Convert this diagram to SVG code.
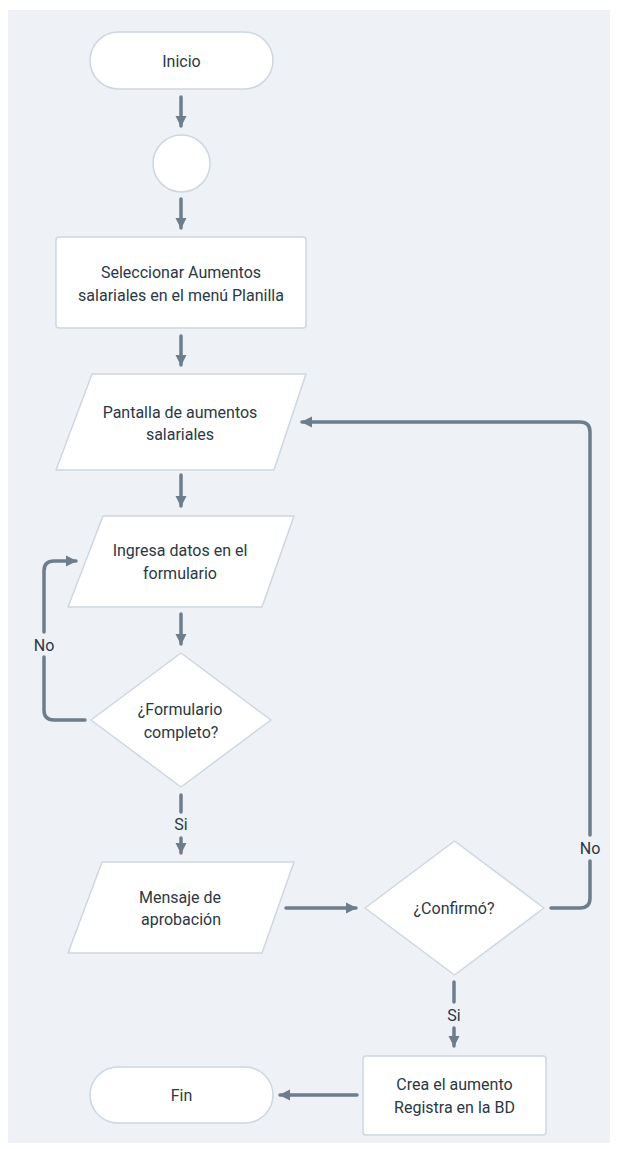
<svg xmlns="http://www.w3.org/2000/svg" width="618" height="1149" viewBox="0 0 618 1149">
<style>
.node{fill:#ffffff;stroke:#cdd7e0;stroke-width:1.5;stroke-linejoin:round}
.t{font-family:Roboto,"Liberation Sans",sans-serif;font-size:16px;fill:#2b3845;text-anchor:middle;dominant-baseline:central}
.c{fill:none;stroke:#6e7d8c;stroke-width:3.5;stroke-linecap:round;stroke-linejoin:round}
.ca{marker-end:url(#ah)}
.lbl{font-family:Roboto,"Liberation Sans",sans-serif;font-size:16px;fill:#2b3845;text-anchor:middle;dominant-baseline:central}
</style>
<defs>
<marker id="ah" markerUnits="userSpaceOnUse" markerWidth="12" markerHeight="12" viewBox="0 0 12 12" refX="10" refY="6" orient="auto">
<path d="M0,0.5 L11,6 L0,11.5 z" fill="#6e7d8c"/>
</marker>
</defs>
<rect x="8" y="10" width="602" height="1133" fill="#eef2f6"/>
<g id="connectors">
<path class="c ca" d="M181,97 V126"/>
<path class="c ca" d="M181,199 V228"/>
<path class="c ca" d="M181,336 V365"/>
<path class="c ca" d="M181,475 V506"/>
<path class="c ca" d="M181,614 V644"/>
<path class="c" d="M85,720 H54 Q44,720 44,710 V657"/>
<path class="c ca" d="M44,632 V571 Q44,561 54,561 H76"/>
<text class="lbl" x="44" y="645">No</text>
<path class="c" d="M181,795 V812"/>
<text class="lbl" x="181" y="824">Si</text>
<path class="c ca" d="M181,838 V853"/>
<path class="c ca" d="M286,908 H356"/>
<path class="c" d="M551,908 H580 Q590,908 590,898 V861"/>
<path class="c ca" d="M590,835 V432 Q590,422 580,422 H302"/>
<text class="lbl" x="590" y="848">No</text>
<path class="c" d="M454,982 V1002"/>
<text class="lbl" x="454" y="1015">Si</text>
<path class="c ca" d="M454,1028 V1046"/>
<path class="c ca" d="M357,1095 H280"/>
</g>
<g id="inicio">
<rect class="node" x="90" y="32" width="183" height="57" rx="28.5"/>
<text class="t" x="181.5" y="61">Inicio</text>
</g>
<g id="conector">
<circle class="node" cx="181.5" cy="163.5" r="28.5"/>
</g>
<g id="seleccionar">
<rect class="node" x="56" y="237" width="250" height="91" rx="3"/>
<text class="t" x="181" y="272">Seleccionar Aumentos</text>
<text class="t" x="181" y="295">salariales en el menú Planilla</text>
</g>
<g id="pantalla">
<polygon class="node" points="92,374 306,374 274,470 56,470"/>
<text class="t" x="180" y="412">Pantalla de aumentos</text>
<text class="t" x="180" y="434">salariales</text>
</g>
<g id="ingresa">
<polygon class="node" points="103,516 294,516 262,607 68,607"/>
<text class="t" x="180" y="550">Ingresa datos en el</text>
<text class="t" x="180" y="573">formulario</text>
</g>
<g id="formulario">
<polygon class="node" points="181,653 271,720 181,787 91,720"/>
<text class="t" x="180" y="709">¿Formulario</text>
<text class="t" x="181" y="732">completo?</text>
</g>
<g id="mensaje">
<polygon class="node" points="102,862 294,862 262,953 68,953"/>
<text class="t" x="180" y="897">Mensaje de</text>
<text class="t" x="181" y="919">aprobación</text>
</g>
<g id="confirmo">
<polygon class="node" points="454.5,841 544,908 454.5,975 365,908"/>
<text class="t" x="454" y="908">¿Confirmó?</text>
</g>
<g id="crea">
<rect class="node" x="363" y="1056" width="183" height="79" rx="3"/>
<text class="t" x="454.5" y="1084">Crea el aumento</text>
<text class="t" x="454.5" y="1107">Registra en la BD</text>
</g>
<g id="fin">
<rect class="node" x="90" y="1067" width="183" height="56" rx="28"/>
<text class="t" x="181.5" y="1095">Fin</text>
</g>
</svg>
